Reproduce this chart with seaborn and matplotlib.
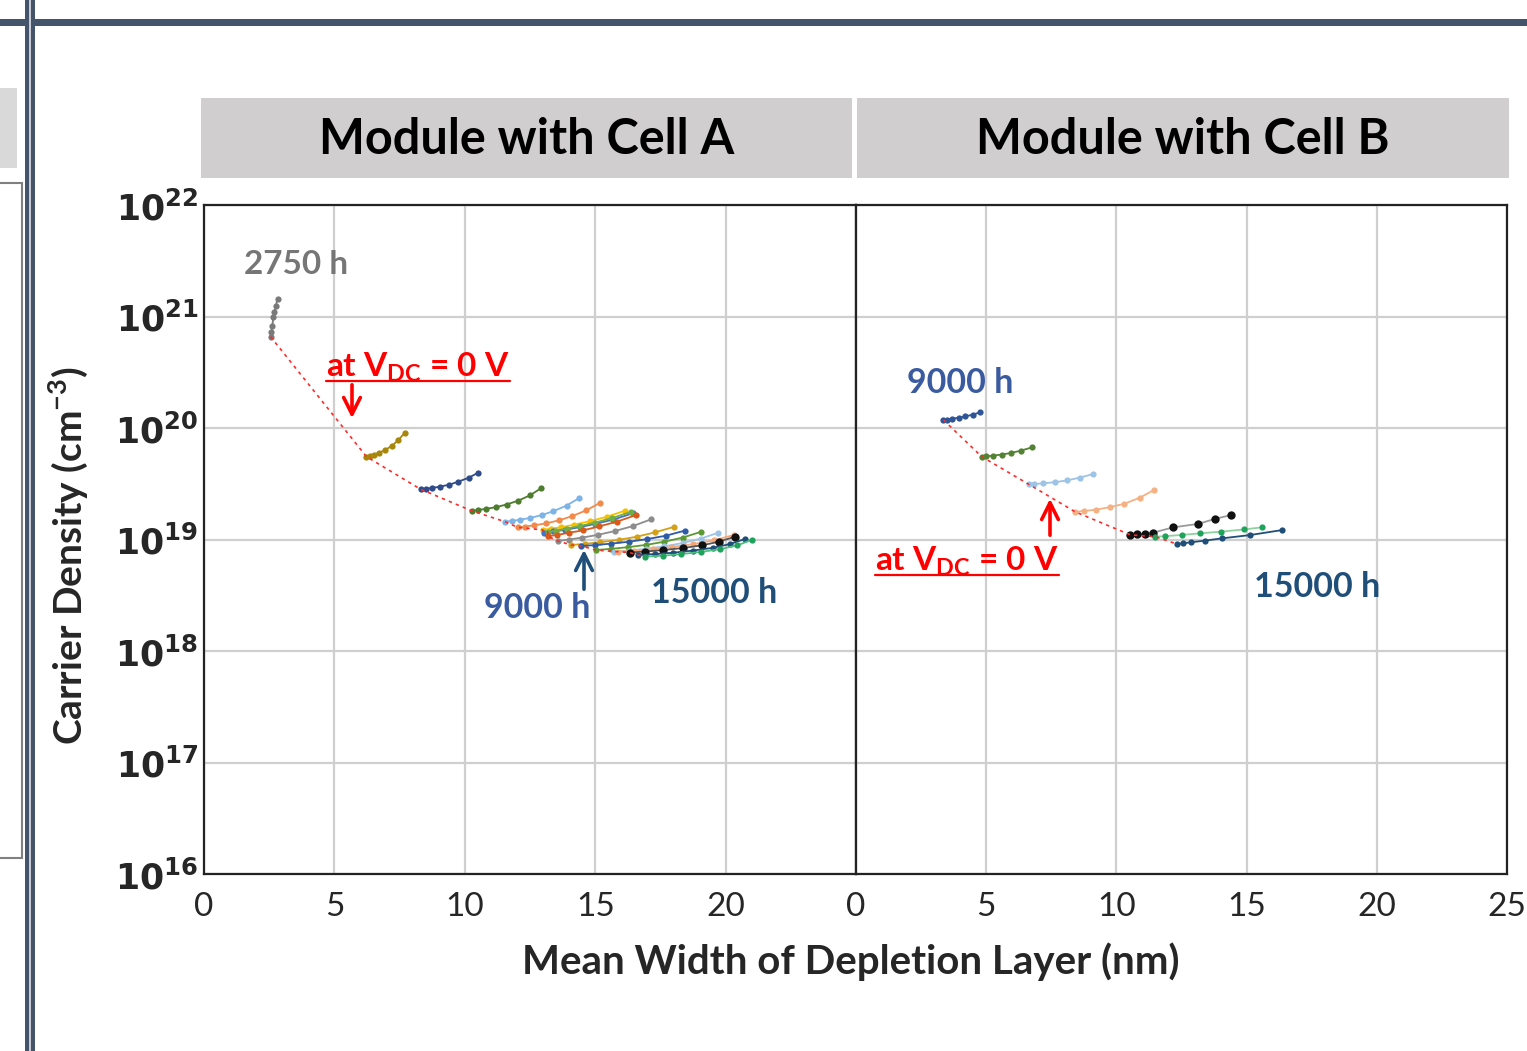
import numpy as np
import pandas as pd
import matplotlib
matplotlib.use("Agg")
import matplotlib.pyplot as plt
import seaborn as sns
from matplotlib.patches import Rectangle, FancyArrowPatch
from matplotlib.lines import Line2D
from matplotlib.ticker import FixedLocator, MultipleLocator, FuncFormatter, NullFormatter

# ---------------- data ----------------
panel_titles = ["Module with Cell A", "Module with Cell B"]
x_label = "Mean Width of Depletion Layer (nm)"
y_label = r"Carrier Density (cm$^{\mathregular{-3}}$)"

x_ticks_a = [0, 5, 10, 15, 20]
x_ticks_b = [0, 5, 10, 15, 20, 25]
y_exponents = [16, 17, 18, 19, 20, 21, 22]

# Cell A : depletion width (nm) for each measurement series (time order)
cellA_width = [
    [2.55, 2.58, 2.62, 2.66, 2.70, 2.75, 2.82],
    [6.23, 6.35, 6.50, 6.70, 6.95, 7.20, 7.45, 7.70],
    [8.31, 8.50, 8.75, 9.05, 9.40, 9.75, 10.15, 10.52],
    [10.26, 10.50, 10.80, 11.20, 11.60, 12.05, 12.50, 12.92],
    [11.54, 11.80, 12.10, 12.50, 12.95, 13.40, 13.90, 14.37],
    [12.03, 12.30, 12.65, 13.10, 13.60, 14.10, 14.65, 15.20],
    [12.99, 13.30, 13.70, 14.20, 14.80, 15.45, 16.13],
    [13.04, 13.40, 13.85, 14.40, 15.00, 15.70, 16.45],
    [13.18, 13.50, 13.90, 14.40, 15.00, 15.65, 16.38],
    [13.18, 13.55, 14.00, 14.55, 15.15, 15.85, 16.58],
    [13.57, 14.00, 14.50, 15.10, 15.75, 16.45, 17.15],
    [14.08, 14.60, 15.20, 15.90, 16.60, 17.30, 18.03],
    [14.46, 15.00, 15.60, 16.30, 17.00, 17.70, 18.43],
    [15.04, 15.60, 16.25, 16.95, 17.65, 18.35, 19.05],
    [15.74, 16.30, 16.95, 17.65, 18.35, 19.05, 19.72],
    [15.87, 16.50, 17.20, 17.95, 18.75, 19.55, 20.33],
    [16.32, 16.90, 17.60, 18.35, 19.10, 19.75, 20.36],
    [16.64, 17.30, 18.00, 18.75, 19.50, 20.15, 20.74],
    [16.90, 17.60, 18.30, 19.05, 19.80, 20.45, 21.00],
]
# Cell A : carrier density (cm^-3)
cellA_density = [
    [6.6e20, 7.2e20, 8.3e20, 9.8e20, 1.10e21, 1.23e21, 1.45e21],
    [5.53e19, 5.61e19, 5.75e19, 5.98e19, 6.35e19, 6.92e19, 7.78e19, 9.08e19],
    [2.82e19, 2.85e19, 2.90e19, 2.98e19, 3.10e19, 3.30e19, 3.58e19, 3.98e19],
    [1.81e19, 1.84e19, 1.88e19, 1.95e19, 2.06e19, 2.23e19, 2.49e19, 2.88e19],
    [1.445e19, 1.466e19, 1.503e19, 1.56e19, 1.656e19, 1.795e19, 2.014e19, 2.339e19],
    [1.285e19, 1.306e19, 1.34e19, 1.393e19, 1.483e19, 1.614e19, 1.824e19, 2.138e19],
    [1.22e19, 1.25e19, 1.29e19, 1.36e19, 1.46e19, 1.60e19, 1.81e19],
    [1.15e19, 1.18e19, 1.22e19, 1.29e19, 1.38e19, 1.51e19, 1.72e19],
    [1.17e19, 1.20e19, 1.25e19, 1.32e19, 1.42e19, 1.56e19, 1.77e19],
    [1.07e19, 1.10e19, 1.15e19, 1.21e19, 1.31e19, 1.45e19, 1.66e19],
    [9.7e18, 1.0e19, 1.04e19, 1.10e19, 1.19e19, 1.32e19, 1.52e19],
    [8.93e18, 9.14e18, 9.46e18, 9.93e18, 1.06e19, 1.16e19, 1.30e19],
    [8.75e18, 8.91e18, 9.18e18, 9.55e18, 1.01e19, 1.08e19, 1.20e19],
    [8.05e18, 8.24e18, 8.53e18, 8.95e18, 9.55e18, 1.04e19, 1.17e19],
    [7.78e18, 7.96e18, 8.26e18, 8.69e18, 9.29e18, 1.02e19, 1.15e19],
    [7.78e18, 7.94e18, 8.18e18, 8.57e18, 9.08e18, 9.82e18, 1.10e19],
    [7.64e18, 7.80e18, 8.04e18, 8.38e18, 8.87e18, 9.57e18, 1.06e19],
    [7.26e18, 7.41e18, 7.62e18, 7.96e18, 8.41e18, 9.08e18, 1.01e19],
    [7.01e18, 7.16e18, 7.40e18, 7.73e18, 8.20e18, 8.87e18, 9.91e18],
]
cellA_colors = ["#7a7a7a", "#a8860c", "#2f4b8a", "#4e7d2e", "#7eb3e6", "#f28a4b",
                "#f5c000", "#4472c4", "#70ad47", "#d95a1a", "#8c8c8c", "#d4a017",
                "#2f5aa6", "#5b9a32", "#9dc3e6", "#f4a77a", "#111111", "#1f4e79",
                "#1fa35a"]
cellA_linecolors = ["#7a7a7a", "#a8860c", "#2f4b8a", "#4e7d2e", "#7eb3e6", "#f28a4b",
                    "#f5c000", "#4472c4", "#70ad47", "#d95a1a", "#8c8c8c", "#d4a017",
                    "#2f5aa6", "#5b9a32", "#9dc3e6", "#f4a77a", "#555555", "#1f4e79",
                    "#4cc27f"]

# Cell B
cellB_width = [
    [3.36, 3.50, 3.70, 3.95, 4.20, 4.50, 4.75],
    [4.83, 5.00, 5.25, 5.60, 5.95, 6.35, 6.76],
    [6.63, 6.85, 7.20, 7.65, 8.10, 8.60, 9.10],
    [8.42, 8.75, 9.20, 9.75, 10.30, 10.90, 11.44],
    [10.54, 10.80, 11.10, 11.40, 12.18, 13.14, 13.78, 14.42],
    [11.50, 11.85, 12.53, 13.20, 14.00, 14.90, 15.58],
    [12.31, 12.55, 12.85, 13.40, 14.04, 15.13, 16.37],
]
cellB_density = [
    [1.18e20, 1.19e20, 1.21e20, 1.24e20, 1.27e20, 1.32e20, 1.38e20],
    [5.53e19, 5.57e19, 5.65e19, 5.78e19, 5.97e19, 6.28e19, 6.71e19],
    [3.13e19, 3.15e19, 3.19e19, 3.27e19, 3.39e19, 3.59e19, 3.86e19],
    [1.77e19, 1.80e19, 1.85e19, 1.95e19, 2.09e19, 2.37e19, 2.78e19],
    [1.10e19, 1.11e19, 1.13e19, 1.15e19, 1.285e19, 1.38e19, 1.53e19, 1.66e19],
    [1.06e19, 1.07e19, 1.10e19, 1.135e19, 1.175e19, 1.23e19, 1.285e19],
    [9.12e18, 9.23e18, 9.44e18, 9.77e18, 1.023e19, 1.096e19, 1.216e19],
]
cellB_colors = ["#2f5597", "#548235", "#9dc3e6", "#f4b183", "#111111", "#1fa35a", "#1f4e79"]
cellB_linecolors = ["#2f5597", "#548235", "#9dc3e6", "#f4b183", "#9a9a9a", "#8fd19e", "#1f4e79"]

# ---------------- style ----------------
sns.set_theme(style="white")
plt.rcParams["font.family"] = ["Lato", "DejaVu Sans"]
plt.rcParams["mathtext.fontset"] = "dejavusans"

W, H = 1527, 1051
fig = plt.figure(figsize=(W / 100, H / 100), dpi=100)
fig.patch.set_facecolor("white")


def fx(px):
    return px / W


def fy(py):
    return 1 - py / H


# slide decorations
slate = "#44546a"
fig.patches.append(Rectangle((0, fy(26)), 1, 7 / H, transform=fig.transFigure,
                             facecolor=slate, edgecolor="none", zorder=0))
fig.patches.append(Rectangle((fx(25), 0), 4 / W, 1, transform=fig.transFigure,
                             facecolor=slate, edgecolor="none", zorder=1))
fig.patches.append(Rectangle((fx(29), 0), 2 / W, 1, transform=fig.transFigure,
                             facecolor="#c8ccd2", edgecolor="none", zorder=1))
fig.patches.append(Rectangle((fx(31), 0), 4.5 / W, 1, transform=fig.transFigure,
                             facecolor=slate, edgecolor="none", zorder=1))
fig.patches.append(Rectangle((0, fy(168)), 17 / W, 80 / H, transform=fig.transFigure,
                             facecolor="#d9d9d9", edgecolor="none", zorder=1))
fig.patches.append(Rectangle((-0.01, fy(858)), fx(22) + 0.01, (858 - 183) / H,
                             transform=fig.transFigure, facecolor="white",
                             edgecolor="#808080", linewidth=1.5, zorder=1))

# panel title boxes
for (x0, x1), title in zip([(201, 852), (857, 1509)], panel_titles):
    fig.patches.append(Rectangle((fx(x0), fy(178)), (x1 - x0) / W, 80 / H,
                                 transform=fig.transFigure, facecolor="#d0cece",
                                 edgecolor="none", zorder=1))
    fig.text(fx((x0 + x1) / 2), fy(140), title, ha="center", va="center",
             fontsize=35, fontweight="bold", color="black")

axL = fig.add_axes([fx(204), fy(874), (856 - 204) / W, (874 - 205) / H])
axR = fig.add_axes([fx(856), fy(874), (1507 - 856) / W, (874 - 205) / H])


def draw_panel(ax, widths, dens, colors, linecolors):
    for i, (xs, ys) in enumerate(zip(widths, dens)):
        big = colors[i] == "#111111"
        sns.lineplot(x=xs, y=ys, ax=ax, color=linecolors[i], marker="o",
                     markersize=6 if big else 4.5, markerfacecolor=colors[i],
                     markeredgecolor=colors[i], markeredgewidth=0,
                     linewidth=1.3, sort=False, estimator=None, zorder=4)
    # V_DC = 0 V guide through first points
    sns.lineplot(x=[w[0] for w in widths], y=[d[0] for d in dens], ax=ax,
                 color="#ff2a2a", linewidth=1.2, linestyle=(0, (2, 2.5)),
                 sort=False, estimator=None, zorder=5)


draw_panel(axL, cellA_width, cellA_density, cellA_colors, cellA_linecolors)
draw_panel(axR, cellB_width, cellB_density, cellB_colors, cellB_linecolors)

fmt_y = FuncFormatter(lambda v, p: r"$\mathbf{10^{%d}}$" % int(round(np.log10(v))))
for ax, xt in [(axL, x_ticks_a), (axR, x_ticks_b)]:
    ax.set_yscale("log")
    ax.set_xlim(0, 25)
    ax.set_ylim(10.0 ** y_exponents[0], 10.0 ** y_exponents[-1])
    ax.set_xlabel("")
    ax.set_ylabel("")
    ax.xaxis.set_major_locator(FixedLocator(xt))
    ax.xaxis.set_minor_locator(MultipleLocator(1))
    ax.yaxis.set_major_locator(FixedLocator([10.0 ** e for e in y_exponents]))
    ax.yaxis.set_minor_locator(FixedLocator(
        [m * 10.0 ** e for e in y_exponents[:-1] for m in range(2, 10)]))
    ax.yaxis.set_minor_formatter(NullFormatter())
    ax.grid(True, which="major", color="#cfcfcf", linewidth=1.6, zorder=0)
    ax.set_axisbelow(True)
    for s in ax.spines.values():
        s.set_color("#222222")
        s.set_linewidth(1.6)
    ax.tick_params(axis="both", which="both", direction="in", color="#222222",
                   top=False, right=False)
    ax.tick_params(axis="both", which="major", length=6, width=1.2)
    ax.tick_params(axis="both", which="minor", length=5, width=1.2)
    ax.tick_params(axis="x", which="major", labelsize=24, pad=13)

axL.yaxis.set_major_formatter(fmt_y)
axL.tick_params(axis="y", which="major", labelsize=25, pad=4)
axR.tick_params(axis="y", which="major", labelleft=False)

# axis labels
fig.text(fx(68), fy(556), y_label, rotation=90, ha="center", va="center",
         fontsize=28, fontweight="bold")
fig.text(fx(851), fy(962), x_label, ha="center", va="center",
         fontsize=29, fontweight="bold")

# annotations
blue = "#3a5ba0"
navy = "#1f4e79"
red = "#ff0000"
fig.text(fx(244), fy(265), "2750 h", ha="left", va="center", fontsize=24,
         fontweight="bold", color="#767676")
fig.text(fx(484), fy(608), "9000 h", ha="left", va="center", fontsize=24.5,
         fontweight="bold", color=blue)
fig.text(fx(651), fy(593), "15000 h", ha="left", va="center", fontsize=24.5,
         fontweight="bold", color=navy)
fig.text(fx(907), fy(383), "9000 h", ha="left", va="center", fontsize=24.5,
         fontweight="bold", color=blue)
fig.text(fx(1254), fy(587), "15000 h", ha="left", va="center", fontsize=24.5,
         fontweight="bold", color=navy)

vdc = r"at V$_{\mathregular{DC}}$ = 0 V"
for (x0, yb) in [(326, 376), (875, 570)]:
    t = fig.text(fx(x0), fy(yb), vdc, ha="left", va="baseline", fontsize=24,
                 fontweight="bold", color=red)
    fig.canvas.draw()
    bb = t.get_window_extent()
    fig.add_artist(Line2D([bb.x0 / W, bb.x1 / W], [fy(yb + 5), fy(yb + 5)],
                          transform=fig.transFigure, color=red, linewidth=1.6))

for (x, y0, y1, c) in [(352, 382, 421, red), (1050, 538, 496, red), (584, 592, 547, navy)]:
    fig.add_artist(FancyArrowPatch((fx(x), fy(y0)), (fx(x), fy(y1)),
                                   transform=fig.transFigure, arrowstyle="->",
                                   mutation_scale=30, color=c, linewidth=2.6))

fig.savefig("out.png", dpi=100)
